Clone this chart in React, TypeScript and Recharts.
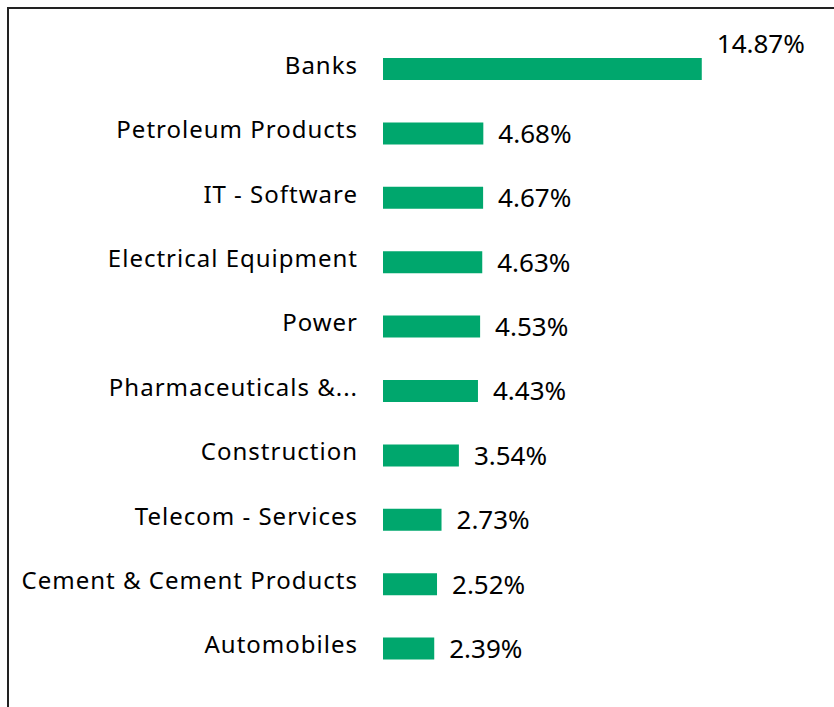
import React from "react";
import { BarChart, Bar, XAxis, YAxis, LabelList } from "recharts";

const sectors = [
  "Banks",
  "Petroleum Products",
  "IT - Software",
  "Electrical Equipment",
  "Power",
  "Pharmaceuticals & Biotechnology",
  "Construction",
  "Telecom - Services",
  "Cement & Cement Products",
  "Automobiles",
];

const weights = [14.87, 4.68, 4.67, 4.63, 4.53, 4.43, 3.54, 2.73, 2.52, 2.39];

const data = sectors.map((name, i) => ({ name, weight: weights[i] }));

const FONT = "'Noto Sans', sans-serif";
const GREEN = "#00a76d";

const shortName = (v: string) => (v.length > 25 ? v.slice(0, 17) + "..." : v);

function ValueLabel(props: any) {
  const { x, y, width, height, value, index } = props;
  // the largest bar has its label lifted above the bar
  const lift = index === 0 ? -25 : 0;
  return (
    <text
      x={x + width + 15}
      y={y + height / 2 + lift}
      dy="0.36em"
      fill="#000"
      fontSize={26}
      fontFamily={FONT}
    >
      {`${Number(value).toFixed(2)}%`}
    </text>
  );
}

export default function App() {
  return (
    <div style={{ position: "absolute", left: 0, top: 0, width: 834, height: 707, background: "#fff" }}>
      <div
        style={{
          position: "absolute",
          left: 7,
          top: 7,
          width: 827,
          height: 700,
          borderLeft: "2px solid #222",
          borderTop: "2px solid #222",
          boxSizing: "border-box",
        }}
      />
      <div style={{ position: "absolute", left: 0, top: 0 }}>
        <BarChart
          width={834}
          height={707}
          data={data}
          layout="vertical"
          margin={{ top: 37, right: 108, bottom: 26, left: 0 }}
          barCategoryGap={0}
        >
          <XAxis type="number" domain={[0, 16]} hide />
          <YAxis
            type="category"
            dataKey="name"
            width={383}
            axisLine={false}
            tickLine={false}
            tickSize={0}
            tickMargin={25}
            interval={0}
            tickFormatter={shortName}
            tick={{ fill: "#000", fontSize: 24, fontFamily: FONT, letterSpacing: 1, dy: -4 }}
          />
          <Bar dataKey="weight" fill={GREEN} barSize={22} isAnimationActive={false}>
            <LabelList dataKey="weight" content={ValueLabel} />
          </Bar>
        </BarChart>
      </div>
    </div>
  );
}
